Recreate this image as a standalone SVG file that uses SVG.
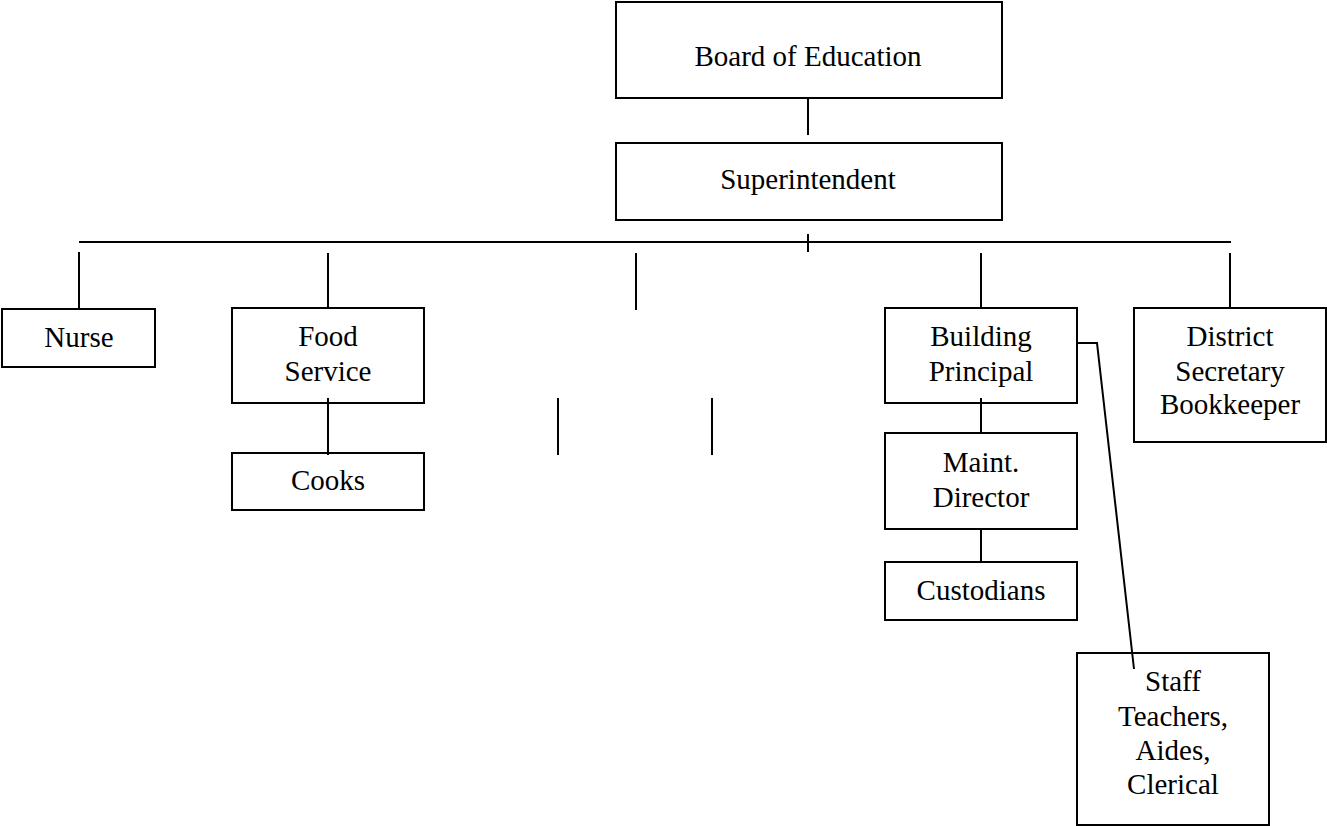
<svg xmlns="http://www.w3.org/2000/svg" width="1327" height="826" viewBox="0 0 1327 826">
<style>
rect{fill:#fff;stroke:#000;stroke-width:2}
line,polyline{stroke:#000;stroke-width:2;fill:none}
text{font-family:"Liberation Serif","Times New Roman",serif;font-size:29px;fill:#000;text-anchor:middle}
</style>
<rect x="0" y="0" width="1327" height="826" style="stroke:none"/>
<g id="board"><rect x="616" y="2" width="386" height="96"/><text x="808" y="66">Board of Education</text></g>
<g id="superintendent"><rect x="616" y="143" width="386" height="77"/><text x="808" y="189">Superintendent</text></g>
<g id="nurse"><rect x="2" y="309" width="153" height="58"/><text x="79" y="347">Nurse</text></g>
<g id="food"><rect x="232" y="308" width="192" height="95"/><text x="328" y="346">Food</text><text x="328" y="381">Service</text></g>
<g id="cooks"><rect x="232" y="453" width="192" height="57"/><text x="328" y="490">Cooks</text></g>
<g id="principal"><rect x="885" y="308" width="192" height="95"/><text x="981" y="346">Building</text><text x="981" y="381">Principal</text></g>
<g id="maint"><rect x="885" y="433" width="192" height="96"/><text x="981" y="472">Maint.</text><text x="981" y="507">Director</text></g>
<g id="custodians"><rect x="885" y="562" width="192" height="58"/><text x="981" y="600">Custodians</text></g>
<g id="district"><rect x="1134" y="308" width="192" height="134"/><text x="1230" y="346">District</text><text x="1230" y="381">Secretary</text><text x="1230" y="414">Bookkeeper</text></g>
<g id="staff"><rect x="1077" y="653" width="192" height="172"/><text x="1173" y="691">Staff</text><text x="1173" y="726">Teachers,</text><text x="1173" y="760">Aides,</text><text x="1173" y="794">Clerical</text></g>
<g id="connectors">
<line x1="808" y1="98" x2="808" y2="135"/>
<line x1="79" y1="242" x2="1231" y2="242"/>
<line x1="808" y1="234" x2="808" y2="252"/>
<line x1="79" y1="252" x2="79" y2="309"/>
<line x1="328" y1="253" x2="328" y2="309"/>
<line x1="636" y1="253" x2="636" y2="310"/>
<line x1="981" y1="253" x2="981" y2="308"/>
<line x1="1230" y1="253" x2="1230" y2="308"/>
<line x1="328" y1="398" x2="328" y2="455"/>
<line x1="558" y1="398" x2="558" y2="455"/>
<line x1="712" y1="398" x2="712" y2="455"/>
<line x1="981" y1="398" x2="981" y2="434"/>
<line x1="981" y1="528" x2="981" y2="563"/>
<polyline points="1077,343 1097,343 1134,669"/>
</g>
</svg>
